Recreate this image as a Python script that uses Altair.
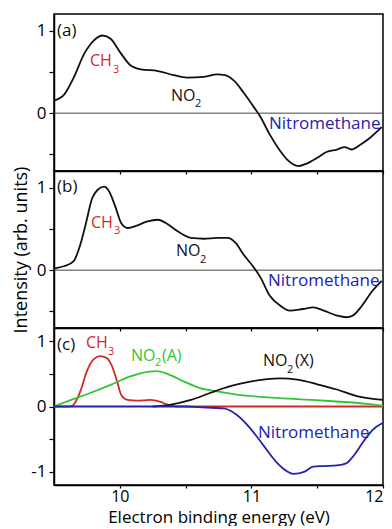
import altair as alt
import pandas as pd

# ---------------- data ----------------
# Panel (a)
a_E = [9.50, 9.58, 9.65, 9.73, 9.78, 9.87, 9.93, 10.01, 10.08, 10.16, 10.29, 10.41, 10.51,
       10.64, 10.74, 10.80, 10.87, 10.94, 11.02, 11.07, 11.14, 11.22, 11.27, 11.36, 11.42,
       11.50, 11.57, 11.65, 11.71, 11.76, 11.83, 11.90, 11.99]
a_I = [0.15, 0.23, 0.43, 0.72, 0.84, 0.94, 0.90, 0.72, 0.58, 0.53, 0.51, 0.46, 0.43,
       0.44, 0.47, 0.46, 0.39, 0.25, 0.07, -0.05, -0.26, -0.46, -0.56, -0.64, -0.61,
       -0.54, -0.47, -0.44, -0.41, -0.44, -0.38, -0.30, -0.17]

# Panel (b)
b_E = [9.50, 9.58, 9.65, 9.70, 9.74, 9.79, 9.83, 9.88, 9.92, 9.97, 10.01, 10.06, 10.13,
       10.21, 10.29, 10.35, 10.44, 10.54, 10.64, 10.74, 10.82, 10.88, 10.94, 11.01, 11.07,
       11.14, 11.22, 11.29, 11.39, 11.47, 11.55, 11.65, 11.72, 11.77, 11.84, 11.91, 11.99]
b_I = [0.02, 0.05, 0.11, 0.31, 0.55, 0.87, 0.97, 1.01, 0.95, 0.75, 0.57, 0.51, 0.54,
       0.59, 0.61, 0.57, 0.47, 0.39, 0.38, 0.39, 0.39, 0.33, 0.19, 0.05, -0.09,
       -0.31, -0.43, -0.49, -0.47, -0.45, -0.49, -0.55, -0.57, -0.55, -0.43, -0.27, -0.13]

# Panel (c) components
ch3_E = [9.50, 9.62, 9.65, 9.70, 9.75, 9.80, 9.85, 9.90, 9.94, 9.98, 10.01, 10.06, 10.13,
         10.23, 10.31, 10.36, 10.44, 11.00, 12.00]
ch3_I = [0.00, 0.00, 0.03, 0.23, 0.54, 0.72, 0.77, 0.74, 0.62, 0.38, 0.18, 0.10, 0.09,
         0.10, 0.07, 0.03, 0.00, 0.00, 0.00]

no2a_E = [9.50, 9.63, 9.78, 9.93, 10.08, 10.21, 10.28, 10.36, 10.49, 10.61, 10.74, 10.89,
          11.12, 11.37, 11.62, 11.88, 12.00]
no2a_I = [0.00, 0.10, 0.21, 0.33, 0.46, 0.53, 0.54, 0.50, 0.38, 0.28, 0.23, 0.18,
          0.14, 0.11, 0.08, 0.04, 0.01]

no2x_E = [10.25, 10.39, 10.54, 10.69, 10.84, 10.99, 11.12, 11.22, 11.35, 11.50, 11.65, 11.80, 12.00]
no2x_I = [0.00, 0.03, 0.10, 0.21, 0.31, 0.38, 0.42, 0.43, 0.41, 0.34, 0.26, 0.16, 0.10]

nm_E = [9.50, 10.50, 10.60, 10.79, 10.89, 10.99, 11.09, 11.19, 11.27, 11.32, 11.40, 11.47,
        11.55, 11.65, 11.72, 11.77, 11.85, 11.92, 12.00]
nm_I = [0.00, 0.00, -0.01, -0.03, -0.13, -0.33, -0.59, -0.85, -0.99, -1.03, -1.00, -0.92,
        -0.91, -0.90, -0.87, -0.77, -0.54, -0.36, -0.25]

x_ticks = [10, 10.5, 11, 11.5, 12]
y_ticks_ab = [-0.5, 0, 0.5, 1]
y_ticks_c = [-1, -0.5, 0, 0.5, 1]

# ---------------- styling ----------------
FONT = "Open Sans"
W, H = 329, 157
RED = "#d42828"
GREEN = "#33c533"
BLUE = "#2323b0"
BLACK = "#111111"

one = pd.DataFrame({"k": [0]})


def df(E, I):
    return pd.DataFrame({"E": E, "I": I})


def xenc(bottom):
    ax = alt.Axis(values=x_ticks, labels=bottom, grid=False, tickSize=3,
                  labelExpr="datum.value % 1 == 0 ? format(datum.value, 'd') : ''",
                  labelPadding=0, labelFontSize=16,
                  title="Electron binding energy (eV)" if bottom else "",
                  titleFontSize=17, titlePadding=5, titleFontWeight="normal")
    return alt.X("E:Q", scale=alt.Scale(domain=[9.5, 12], nice=False, zero=False), axis=ax)


def yenc(domain, ticks, title=""):
    ax = alt.Axis(values=ticks, grid=False, tickSize=5, labelPadding=3,
                  labelExpr="datum.value == 1 ? '1' : datum.value == 0 ? '0' : datum.value == -1 ? '-1' : ''",
                  title=title, titleFontSize=18, titlePadding=6, titleFontWeight="normal")
    return alt.Y("I:Q", scale=alt.Scale(domain=domain, nice=False, zero=False), axis=ax)


def line(E, I, color, domain, ticks, bottom=False, title="", width=1.8):
    return alt.Chart(df(E, I)).mark_line(color=color, strokeWidth=width, interpolate="monotone",
                                         clip=True).encode(
        x=xenc(bottom), y=yenc(domain, ticks, title))


def zero_rule(domain):
    return alt.Chart(one).mark_rule(color="#444444", strokeWidth=1).encode(
        y=alt.datum(0, scale=alt.Scale(domain=domain, nice=False, zero=False)))


def txt(text, x, y, color, size=16, baseline="alphabetic"):
    return alt.Chart(one).mark_text(text=text, font=FONT, fontSize=size, color=color,
                                    align="left", baseline=baseline).encode(
        x=alt.value(x), y=alt.value(y))


SUB = 11

dom_ab = [-0.7, 1.2]
dom_c = [-1.2, 1.2]

panel_a = alt.layer(
    zero_rule(dom_ab),
    line(a_E, a_I, BLACK, dom_ab, y_ticks_ab),
    txt("(a)", 3, 17, BLACK, 17, baseline="middle"),
    txt("CH", 36, 52, RED), txt("3", 59, 59, RED, SUB),
    txt("NO", 117, 87, BLACK), txt("2", 141, 93, BLACK, SUB),
    txt("Nitromethane", 215, 115, BLUE, 17),
).properties(width=W, height=H)

panel_b = alt.layer(
    zero_rule(dom_ab),
    line(b_E, b_I, BLACK, dom_ab, y_ticks_ab, title="Intensity (arb. units)"),
    txt("(b)", 3, 16, BLACK, 17, baseline="middle"),
    txt("CH", 37, 57, RED), txt("3", 60, 63, RED, SUB),
    txt("NO", 122, 85, BLACK), txt("2", 146, 92, BLACK, SUB),
    txt("Nitromethane", 214, 115, BLUE, 17),
).properties(width=W, height=H)

panel_c = alt.layer(
    line(ch3_E, ch3_I, RED, dom_c, y_ticks_c, bottom=True),
    line(no2a_E, no2a_I, GREEN, dom_c, y_ticks_c, bottom=True),
    line(no2x_E, no2x_I, BLACK, dom_c, y_ticks_c, bottom=True),
    line(nm_E, nm_I, BLUE, dom_c, y_ticks_c, bottom=True),
    txt("(c)", 3, 17, BLACK, 17, baseline="middle"),
    txt("CH", 32, 20, RED), txt("3", 54, 27, RED, SUB),
    txt("NO", 77, 33, GREEN), txt("2", 101, 38, GREEN, SUB), txt("(A)", 108, 33, GREEN),
    txt("NO", 209, 38, BLACK), txt("2", 233, 45, BLACK, SUB), txt("(X)", 241, 38, BLACK),
    txt("Nitromethane", 204, 110, BLUE, 17),
).properties(width=W, height=H)

chart = alt.vconcat(panel_a, panel_b, panel_c, spacing=0, bounds="flush").properties(
    padding={"left": 11, "top": 13, "right": 0, "bottom": 0},
    background="white",
).configure_view(
    stroke="black", strokeWidth=1.5
).configure_axis(
    labelFont=FONT, titleFont=FONT, labelFontSize=17, labelColor="black", titleColor="black",
    tickColor="black", domainColor="black", domainWidth=1.5, tickWidth=1.2
).configure_text(font=FONT)

chart.save("out.html", embed_options={"renderer": "svg", "actions": False})
